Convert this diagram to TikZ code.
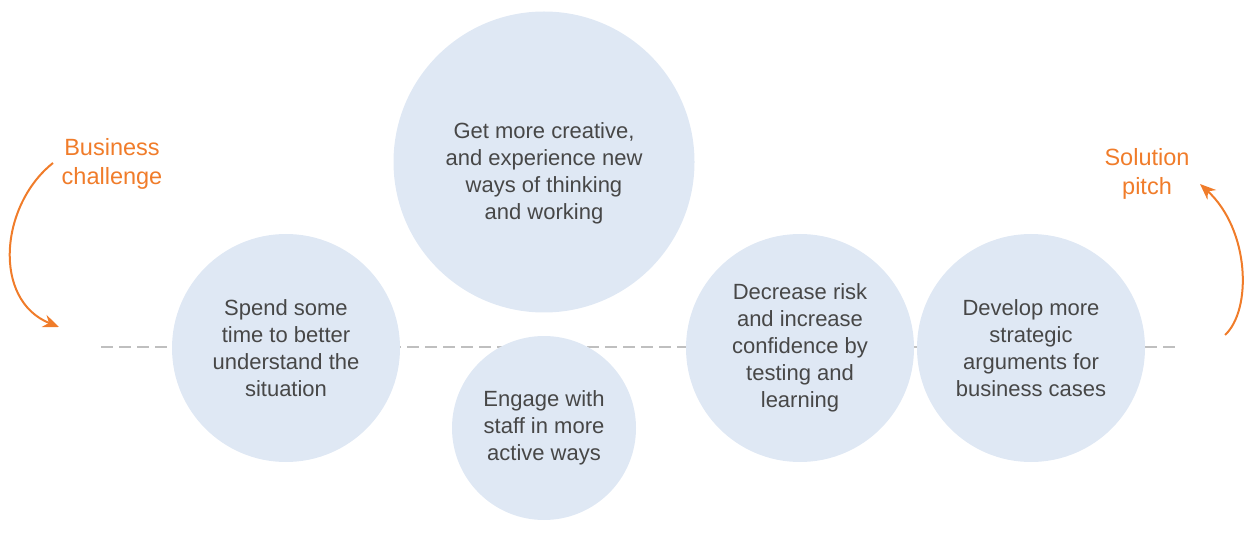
\documentclass[tikz,border=0pt]{standalone}
\usepackage{fontspec}
\setmainfont{Liberation Sans}
\usetikzlibrary{arrows.meta}
\definecolor{bubble}{HTML}{DFE8F4}
\definecolor{ink}{HTML}{474747}
\definecolor{accent}{HTML}{F07C2A}

\begin{document}
\begin{tikzpicture}[x=1pt,y=-1pt,
	main/.style = {circle, fill=bubble, text=ink, align=center, inner sep=0pt,
		font=\fontsize{22}{27}\selectfont},
	tag/.style = {text=accent, align=center, font=\fontsize{23.5}{29}\selectfont},
	curl/.style = {draw=accent, line width=2pt, -{Stealth[length=16pt,width=13pt]}}]
	\useasboundingbox (0,0) rectangle (1257,534);
	\coordinate (lineL) at (101,347);
	\coordinate (lineR) at (1175,347);
	\draw[gray!50, line width=1.5pt, dash pattern=on 12pt off 6pt] (lineL) -- (lineR);
	\node[main, minimum size=228pt] (spend) at (286,348) {Spend some\\time to better\\understand the\\situation};
	\node[main, minimum size=301pt] (creative) at (544,162) {};
	\node[main, fill=none] (creativeText) at (544,173) {Get more creative,\\and experience new\\ways of thinking\\and working};
	\node[main, minimum size=184pt] (engage) at (544,428) {Engage with\\staff in more\\active ways};
	\node[main, minimum size=228pt] (risk) at (800,348) {Decrease risk\\and increase\\confidence by\\testing and\\learning};
	\node[main, minimum size=228pt] (develop) at (1031,348) {Develop more\\strategic\\arguments for\\business cases};
	\node[tag] (challenge) at (112,164) {Business\\challenge};
	\node[tag] (pitch) at (1147,174) {Solution\\pitch};
	\coordinate (challengeStart) at (53,163);
	\coordinate (challengeEnd) at (59,327);
	\coordinate (pitchStart) at (1225,335);
	\coordinate (pitchEnd) at (1200,184);
	\draw[curl] (challengeStart) .. controls (0,205) and (-8,300) .. (challengeEnd);
	\draw[curl] (pitchStart) .. controls (1252,310) and (1250,230) .. (pitchEnd);
\end{tikzpicture}
\end{document}
